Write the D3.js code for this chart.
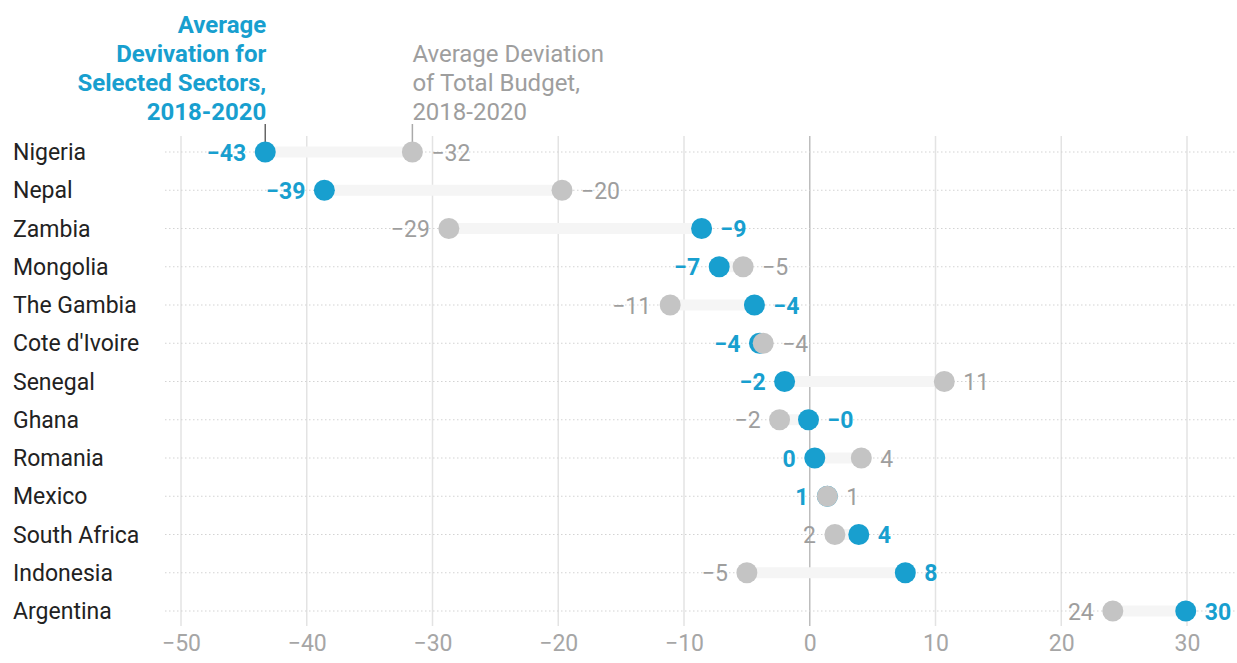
<!DOCTYPE html>
<html>
<head>
<meta charset="utf-8">
<script src="https://cdn.jsdelivr.net/npm/d3@7"></script>
<style>
  body { margin: 0; background: #fff; }
  text { font-family: Roboto, "Noto Sans", sans-serif; }
</style>
</head>
<body>
<div id="chart"></div>
<script>
// data
var countries = ["Nigeria", "Nepal", "Zambia", "Mongolia", "The Gambia", "Cote d'Ivoire",
  "Senegal", "Ghana", "Romania", "Mexico", "South Africa", "Indonesia", "Argentina"];
var sectorDev = [-43.3, -38.6, -8.6, -7.2, -4.4, -4.0, -2.0, -0.1, 0.4, 1.4, 3.9, 7.6, 29.9];
var totalDev  = [-31.6, -19.7, -28.7, -5.3, -11.1, -3.7, 10.7, -2.4, 4.1, 1.4, 2.0, -5.0, 24.1];
var xTicks = [-50, -40, -30, -20, -10, 0, 10, 20, 30];
var sectorTitle = ["Average", "Devivation for", "Selected Sectors,", "2018-2020"];
var totalTitle = ["Average Deviation", "of Total Budget,", "2018-2020"];

var width = 1237, height = 663;
var blue = "#189fcf", grey = "#c4c4c4", greyText = "#9e9e9e";

var svg = d3.select("#chart").append("svg")
    .attr("width", width)
    .attr("height", height);

var x = d3.scaleLinear().domain([-50, 30]).range([181, 1187]);
var y = d3.scalePoint().domain(countries).range([152, 611]);

var rows = countries.map(function(c, i){
  return {name: c, s: sectorDev[i], t: totalDev[i]};
});

function fmt(v){
  return (v < 0 ? "\u2212" : "") + Math.round(Math.abs(v));
}

// vertical grid
svg.append("g").selectAll("line")
  .data(xTicks).enter().append("line")
  .attr("x1", d => x(d)).attr("x2", d => x(d))
  .attr("y1", 136).attr("y2", 626)
  .attr("stroke", d => d === 0 ? "#bdbdbd" : "#e3e3e3")
  .attr("stroke-width", 1.5);

// dotted row lines
svg.append("g").selectAll("line")
  .data(rows).enter().append("line")
  .attr("x1", 165).attr("x2", width)
  .attr("y1", d => y(d.name)).attr("y2", d => y(d.name))
  .attr("stroke", "#d3d3d3")
  .attr("stroke-dasharray", "1.5,2.5")
  .attr("stroke-width", 1);

// x axis labels
var xAxis = d3.axisBottom(x).tickValues(xTicks).tickSize(0).tickPadding(0)
  .tickFormat(d => (d < 0 ? "\u2212" : "") + Math.abs(d));
var gx = svg.append("g").attr("transform", "translate(0,635)").call(xAxis);
gx.select(".domain").remove();
gx.selectAll("text")
  .attr("dy", "0.71em")
  .style("font-size", "23px")
  .attr("fill", "#a6a6a6");

// country labels
svg.append("g").selectAll("text")
  .data(rows).enter().append("text")
  .attr("x", 13).attr("y", d => y(d.name))
  .attr("dy", "0.35em")
  .style("font-size", "23px")
  .attr("fill", "#222")
  .text(d => d.name);

// connectors
svg.append("g").selectAll("line")
  .data(rows).enter().append("line")
  .attr("x1", d => x(Math.min(d.s, d.t))).attr("x2", d => x(Math.max(d.s, d.t)))
  .attr("y1", d => y(d.name)).attr("y2", d => y(d.name))
  .attr("stroke", "#f5f5f5")
  .attr("stroke-width", 11);

// header annotations
var r0 = rows[0];
svg.append("line").attr("x1", x(r0.s)).attr("x2", x(r0.s)).attr("y1", 124).attr("y2", 142)
  .attr("stroke", "#666").attr("stroke-width", 1.5);
svg.append("line").attr("x1", x(r0.t)).attr("x2", x(r0.t)).attr("y1", 124).attr("y2", 142)
  .attr("stroke", "#aaa").attr("stroke-width", 1.5);

svg.append("text")
  .attr("text-anchor", "end")
  .style("font-size", "24px").style("font-weight", "bold")
  .attr("fill", blue)
  .selectAll("tspan").data(sectorTitle).enter().append("tspan")
  .attr("x", x(r0.s) + 1).attr("y", (d, i) => 33 + i * 29)
  .text(d => d);

svg.append("text")
  .attr("text-anchor", "start")
  .style("font-size", "24px")
  .attr("fill", greyText)
  .selectAll("tspan").data(totalTitle).enter().append("tspan")
  .attr("x", x(r0.t)).attr("y", (d, i) => 62 + i * 29)
  .text(d => d);

// dots: blue first, grey on top
svg.append("g").selectAll("circle")
  .data(rows).enter().append("circle")
  .attr("cx", d => x(d.s)).attr("cy", d => y(d.name))
  .attr("r", 10.5).attr("fill", blue);

svg.append("g").selectAll("circle")
  .data(rows).enter().append("circle")
  .attr("cx", d => x(d.t)).attr("cy", d => y(d.name))
  .attr("r", 10.5).attr("fill", grey);

// value labels, placed on the outer side of each dot
var pad = 19;
svg.append("g").selectAll("text")
  .data(rows).enter().append("text")
  .attr("x", d => d.s <= d.t ? x(d.s) - pad : x(d.s) + pad)
  .attr("y", d => y(d.name))
  .attr("dy", "0.37em")
  .attr("text-anchor", d => d.s <= d.t ? "end" : "start")
  .style("font-size", "23px").style("font-weight", "bold")
  .attr("fill", blue)
  .text(d => fmt(d.s));

svg.append("g").selectAll("text")
  .data(rows).enter().append("text")
  .attr("x", d => d.t >= d.s ? x(d.t) + pad : x(d.t) - pad)
  .attr("y", d => y(d.name))
  .attr("dy", "0.37em")
  .attr("text-anchor", d => d.t >= d.s ? "start" : "end")
  .style("font-size", "23px")
  .attr("fill", greyText)
  .text(d => fmt(d.t));
</script>
</body>
</html>
